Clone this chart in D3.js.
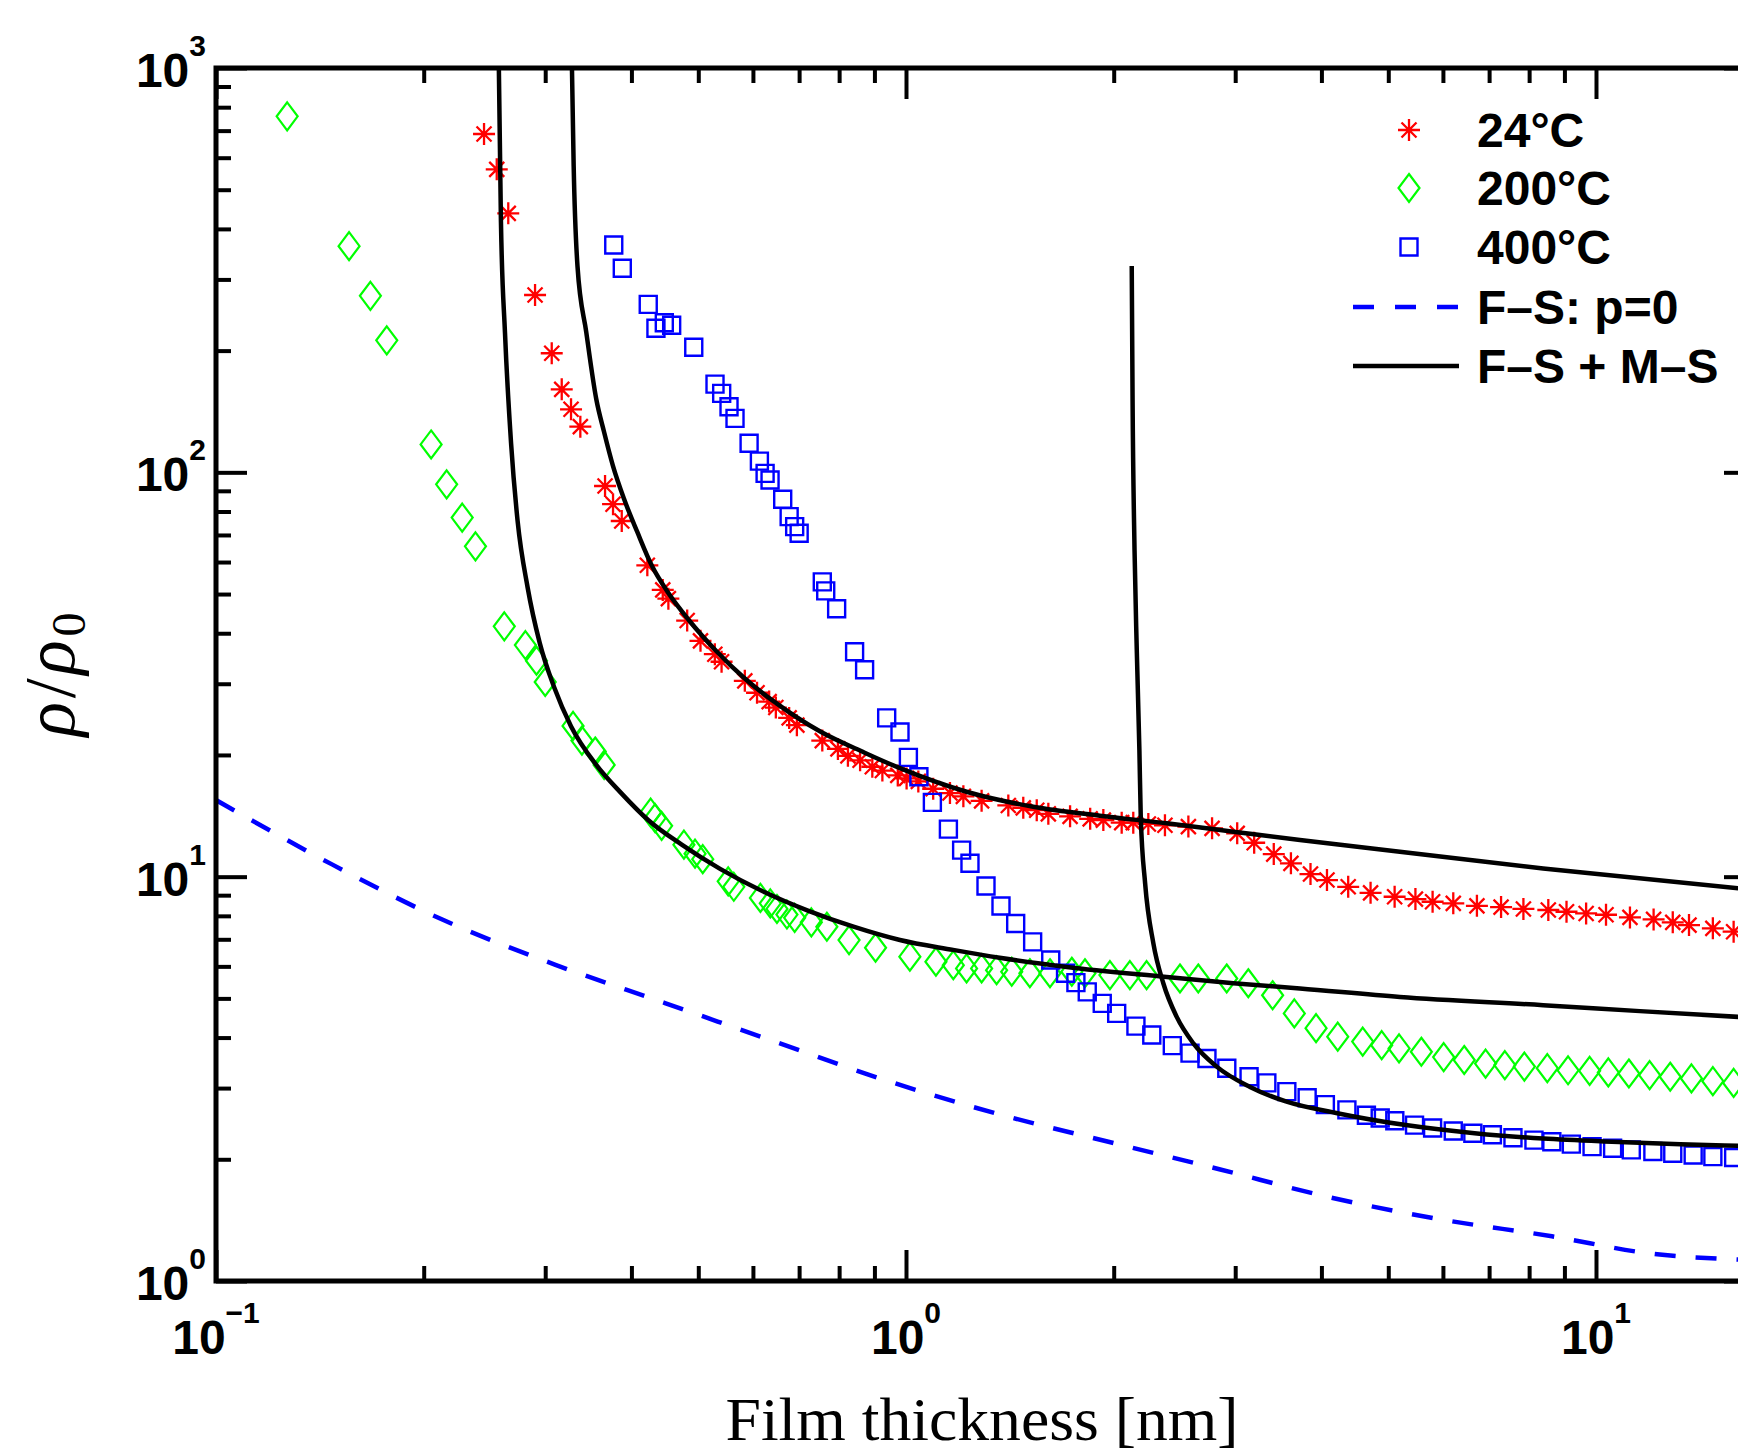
<!DOCTYPE html>
<html>
<head>
<meta charset="utf-8">
<script src="https://cdnjs.cloudflare.com/ajax/libs/d3/7.8.5/d3.min.js"></script>
<style>
  html, body { margin: 0; padding: 0; background: #fff; }
  svg { display: block; }
  .tick text { display: none; }
</style>
</head>
<body>
<svg id="chart" width="1738" height="1453"></svg>
<script>
// measured data, [thickness nm, rho/rho0]
var data24 = [[0.2446,686.7],[0.2552,561.6],[0.2652,437.1],[0.2900,274.5],[0.3066,197.0],[0.3170,160.4],[0.3270,143.2],[0.3373,129.7],[0.3663,92.5],[0.3762,83.4],[0.3873,75.8],[0.4218,58.9],[0.4441,51.2],[0.4525,48.7],[0.4818,43.0],[0.5037,38.3],[0.5284,35.5],[0.5404,34.0],[0.5840,30.5],[0.6083,28.5],[0.6334,27.1],[0.6477,26.2],[0.6771,24.7],[0.6948,23.7],[0.7563,21.7],[0.7968,20.7],[0.8238,19.9],[0.8580,19.4],[0.8937,18.7],[0.9242,18.3],[0.9730,17.8],[1.002,17.5],[1.042,17.2],[1.095,16.5],[1.158,16.1],[1.211,15.8],[1.287,15.4],[1.407,15.0],[1.479,14.8],[1.547,14.6],[1.608,14.3],[1.729,14.1],[1.849,13.9],[1.932,13.8],[2.054,13.6],[2.135,13.6],[2.245,13.5],[2.373,13.4],[2.566,13.3],[2.777,13.17],[3.020,12.80],[3.196,12.13],[3.412,11.37],[3.613,10.79],[3.857,10.15],[4.075,9.81],[4.374,9.44],[4.713,9.12],[5.107,8.92],[5.474,8.80],[5.797,8.67],[6.211,8.59],[6.721,8.47],[7.285,8.41],[7.849,8.32],[8.529,8.27],[9.063,8.19],[9.676,8.11],[10.34,8.05],[11.20,7.93],[12.12,7.84],[12.92,7.71],[13.64,7.59],[14.77,7.45],[15.83,7.31]];

var data200 = [[0.1268,759.4],[0.1559,362.6],[0.1674,273.2],[0.1768,212.1],[0.2050,117.2],[0.2159,93.4],[0.2274,77.3],[0.2377,65.6],[0.2617,41.6],[0.2808,37.4],[0.2914,34.2],[0.3000,30.3],[0.3292,23.6],[0.3391,21.7],[0.3545,20.4],[0.3652,18.9],[0.4265,14.4],[0.4329,13.96],[0.4424,13.36],[0.4766,12.0],[0.4946,11.4],[0.5075,11.05],[0.5525,9.74],[0.5629,9.44],[0.6152,8.86],[0.6358,8.59],[0.6501,8.32],[0.6721,8.06],[0.6897,7.91],[0.7291,7.71],[0.7679,7.52],[0.8269,6.97],[0.9034,6.67],[1.013,6.34],[1.105,6.16],[1.171,6.04],[1.224,5.93],[1.287,5.93],[1.353,5.87],[1.423,5.82],[1.512,5.77],[1.617,5.77],[1.739,5.82],[1.817,5.77],[1.975,5.71],[2.111,5.71],[2.232,5.71],[2.495,5.60],[2.652,5.60],[2.916,5.60],[3.134,5.45],[3.399,5.09],[3.654,4.59],[3.929,4.22],[4.224,4.02],[4.591,3.91],[4.891,3.83],[5.183,3.76],[5.583,3.69],[6.015,3.58],[6.442,3.52],[6.918,3.45],[7.377,3.42],[7.874,3.39],[8.50,3.36],[9.11,3.32],[9.79,3.31],[10.42,3.28],[11.16,3.26],[11.96,3.23],[12.81,3.20],[13.75,3.17],[14.77,3.12],[15.83,3.09]];

var data400 = [[0.3771,364.9],[0.3880,319.6],[0.4231,260.3],[0.4341,227.1],[0.4464,234.4],[0.4575,231.0],[0.4925,203.8],[0.5287,165.3],[0.5406,156.8],[0.5540,145.3],[0.5652,136.0],[0.5924,118.0],[0.6131,106.6],[0.6249,99.4],[0.6353,95.7],[0.6627,85.8],[0.6771,77.7],[0.6897,73.4],[0.7001,70.7],[0.7563,53.6],[0.7650,50.9],[0.7934,46.0],[0.8424,36.0],[0.8710,32.5],[0.9376,24.7],[0.9802,22.8],[1.008,19.73],[1.044,17.66],[1.092,15.27],[1.152,13.11],[1.204,11.63],[1.238,10.79],[1.306,9.48],[1.373,8.46],[1.442,7.66],[1.526,6.90],[1.621,6.22],[1.703,5.77],[1.763,5.47],[1.831,5.19],[1.925,4.86],[2.020,4.59],[2.154,4.27],[2.271,4.06],[2.432,3.82],[2.580,3.66],[2.730,3.55],[2.917,3.36],[3.142,3.20],[3.334,3.09],[3.564,2.94],[3.814,2.84],[4.053,2.73],[4.355,2.65],[4.648,2.57],[4.867,2.53],[5.110,2.49],[5.458,2.43],[5.797,2.39],[6.211,2.35],[6.630,2.32],[7.077,2.30],[7.58,2.26],[8.13,2.23],[8.63,2.21],[9.21,2.18],[9.87,2.15],[10.57,2.13],[11.25,2.11],[12.09,2.09],[12.92,2.07],[13.83,2.05],[14.77,2.03],[15.83,2.02]];

// F-S with p=0 (dashed)
var fsCurve = [[0.1,15.47],[0.1475,10.71],[0.2136,7.81],[0.3091,6.07],[0.4474,4.87],[0.6477,3.90],[0.9376,3.13],[1.358,2.59],[1.965,2.21],[2.845,1.89],[4.118,1.61],[5.958,1.42],[8.63,1.29],[11.98,1.17],[16.07,1.13]];

// F-S + M-S fits (solid)
var fit24 = [[0.3280,1000],[0.3299,571.3],[0.3341,323.8],[0.3441,221.8],[0.3557,151.8],[0.3652,125.6],[0.3760,103.9],[0.3902,86.0],[0.4079,71.2],[0.4279,58.9],[0.4525,50.3],[0.4854,42.95],[0.5304,36.2],[0.5840,30.9],[0.6477,26.9],[0.7512,22.85],[0.8710,20.26],[0.980,18.55],[1.224,16.22],[1.529,14.89],[1.910,14.15],[2.387,13.55],[2.981,12.92],[3.724,12.32],[5.197,11.52],[8.384,10.48],[16.07,9.36]];
var fit200 = [[0.2570,1000],[0.2588,416.7],[0.2623,221.8],[0.2677,117.9],[0.2736,75.8],[0.2829,51.9],[0.2946,37.8],[0.3091,29.4],[0.3268,23.6],[0.3557,18.9],[0.3860,16.14],[0.4233,13.79],[0.4731,12.0],[0.5385,10.44],[0.6243,9.15],[0.7238,8.22],[0.8393,7.52],[0.980,6.97],[1.170,6.59],[1.367,6.30],[1.709,5.98],[2.387,5.65],[2.981,5.45],[3.724,5.29],[5.197,5.04],[8.384,4.81],[11.58,4.65],[16.07,4.50]];
var fit400 = [[2.124,323.8],[2.130,151.0],[2.144,64.2],[2.160,36.4],[2.179,20.56],[2.189,14.07],[2.221,9.63],[2.283,6.84],[2.360,5.45],[2.468,4.50],[2.609,3.87],[2.820,3.39],[3.152,3.02],[3.552,2.78],[4.218,2.60],[5.30,2.43],[6.67,2.32],[8.384,2.25],[10.54,2.21],[13.25,2.18],[16.07,2.16]];

var xMajor = [0.1, 1, 10];
var xMinor = [0.2,0.3,0.4,0.5,0.6,0.7,0.8,0.9,2,3,4,5,6,7,8,9];
var yMajor = [1, 10, 100, 1000];
var yMinor = [2,3,4,5,6,7,8,9,20,30,40,50,60,70,80,90,200,300,400,500,600,700,800,900];
var xTickExp = ["\u22121", "0", "1"];
var yTickExp = ["0", "1", "2", "3"];

var legendItems = [
  {label: "24\u00B0C", type: "star"},
  {label: "200\u00B0C", type: "diamond"},
  {label: "400\u00B0C", type: "square"},
  {label: "F\u2013S: p=0", type: "dash"},
  {label: "F\u2013S + M\u2013S", type: "solid"}
];

var svg = d3.select("#chart");
var pL = 216, pT = 68, pR = 1755, pB = 1281;

var x = d3.scaleLog().domain([0.1, 17]).range([pL, pR]);
var y = d3.scaleLog().domain([1, 1000]).range([pB, pT]);

var sansBold = "'Liberation Sans', Arial, Helvetica, sans-serif";
var serif = "'Liberation Serif', 'Times New Roman', serif";

var markerPath = {
  star: "M-11,0H11M0,-11V11M-7.5,-7.5L7.5,7.5M-7.5,7.5L7.5,-7.5",
  diamond: "M0,-14L10.5,0L0,14L-10.5,0Z",
  square: "M-8.5,-8.5H8.5V8.5H-8.5Z"
};
var markerStyle = {
  star: {stroke: "#ff0000", width: 2.3},
  diamond: {stroke: "#00ff00", width: 2.2},
  square: {stroke: "#0000ff", width: 2.4}
};

svg.append("defs").append("clipPath").attr("id", "plotclip")
  .append("rect").attr("x", pL).attr("y", pT)
  .attr("width", pR - pL).attr("height", pB - pT);

var plot = svg.append("g").attr("clip-path", "url(#plotclip)");

function drawMarkers(series, type) {
  plot.append("g").selectAll("path").data(series).enter()
    .append("path")
    .attr("d", markerPath[type])
    .attr("transform", function(d){ return "translate(" + x(d[0]) + "," + y(d[1]) + ")"; })
    .attr("fill", "none")
    .attr("stroke", markerStyle[type].stroke)
    .attr("stroke-width", markerStyle[type].width);
}
drawMarkers(data24, "star");
drawMarkers(data200, "diamond");
drawMarkers(data400, "square");

var line = d3.line()
  .x(function(d){ return x(d[0]); })
  .y(function(d){ return y(d[1]); })
  .curve(d3.curveMonotoneX);

plot.append("path").datum(fsCurve).attr("d", line)
  .attr("fill", "none").attr("stroke", "#0000ff")
  .attr("stroke-width", 4.5).attr("stroke-dasharray", "21,20");

[fit24, fit200, fit400].forEach(function(c){
  plot.append("path").datum(c).attr("d", line)
    .attr("fill", "none").attr("stroke", "#000")
    .attr("stroke-width", 4.5);
});

// axes ticks (all four sides, inward)
function tickAxis(axis, vals, size, tr) {
  var g = svg.append("g").attr("transform", tr)
    .call(axis.tickValues(vals).tickSize(size).tickSizeOuter(0).tickFormat(""));
  g.select(".domain").remove();
  g.selectAll(".tick line").attr("stroke", "#000").attr("stroke-width", 4);
}
tickAxis(d3.axisBottom(x), xMajor, -31, "translate(0," + pB + ")");
tickAxis(d3.axisBottom(x), xMinor, -15, "translate(0," + pB + ")");
tickAxis(d3.axisTop(x), xMajor, -31, "translate(0," + pT + ")");
tickAxis(d3.axisTop(x), xMinor, -15, "translate(0," + pT + ")");
tickAxis(d3.axisLeft(y), yMajor, -31, "translate(" + pL + ",0)");
tickAxis(d3.axisLeft(y), yMinor, -15, "translate(" + pL + ",0)");
tickAxis(d3.axisRight(y), yMajor, -31, "translate(" + pR + ",0)");
tickAxis(d3.axisRight(y), yMinor, -15, "translate(" + pR + ",0)");

// frame
svg.append("rect").attr("x", pL).attr("y", pT)
  .attr("width", pR - pL).attr("height", pB - pT)
  .attr("fill", "none").attr("stroke", "#000").attr("stroke-width", 5);

// tick labels 10^n
xMajor.forEach(function(v, i){
  var t = svg.append("text").attr("x", x(v)).attr("y", 1354)
    .attr("text-anchor", "middle").attr("font-family", sansBold)
    .attr("font-weight", "bold").attr("font-size", 48);
  t.append("tspan").text("10");
  t.append("tspan").attr("dy", -31).attr("font-size", 30).text(xTickExp[i]);
});
yMajor.forEach(function(v, i){
  var t = svg.append("text").attr("x", 206).attr("y", y(v) + 19)
    .attr("text-anchor", "end").attr("font-family", sansBold)
    .attr("font-weight", "bold").attr("font-size", 48);
  t.append("tspan").text("10");
  t.append("tspan").attr("dy", -31).attr("font-size", 30).text(yTickExp[i]);
});

// axis titles
svg.append("text").attr("x", 982).attr("y", 1440)
  .attr("text-anchor", "middle").attr("font-family", serif)
  .attr("font-size", 62).attr("textLength", 513).attr("lengthAdjust", "spacingAndGlyphs")
  .text("Film thickness [nm]");

var yl = svg.append("text")
  .attr("transform", "translate(74," + ((pT + pB) / 2) + ") rotate(-90)")
  .attr("text-anchor", "middle").attr("font-family", serif).attr("font-size", 72)
  .attr("textLength", 124).attr("lengthAdjust", "spacing");
yl.append("tspan").attr("font-style", "italic").text("\u03C1");
yl.append("tspan").text("/");
yl.append("tspan").attr("font-style", "italic").text("\u03C1");
yl.append("tspan").attr("font-size", 48).attr("dy", 11).text("0");

// legend
var legRows = [130, 188, 247, 307, 366];
var leg = svg.append("g");
legendItems.forEach(function(it, i){
  var cy = legRows[i];
  if (markerPath[it.type]) {
    leg.append("path").attr("d", markerPath[it.type])
      .attr("transform", "translate(1409," + cy + ")")
      .attr("fill", "none").attr("stroke", markerStyle[it.type].stroke)
      .attr("stroke-width", markerStyle[it.type].width);
  } else {
    leg.append("line").attr("x1", 1353).attr("x2", 1459).attr("y1", cy).attr("y2", cy)
      .attr("stroke", it.type === "dash" ? "#0000ff" : "#000")
      .attr("stroke-width", 4.5)
      .attr("stroke-dasharray", it.type === "dash" ? "21,21" : null);
  }
  leg.append("text").attr("x", 1477).attr("y", cy + 17)
    .attr("font-family", sansBold).attr("font-weight", "bold").attr("font-size", 48)
    .text(it.label);
});
</script>
</body>
</html>
